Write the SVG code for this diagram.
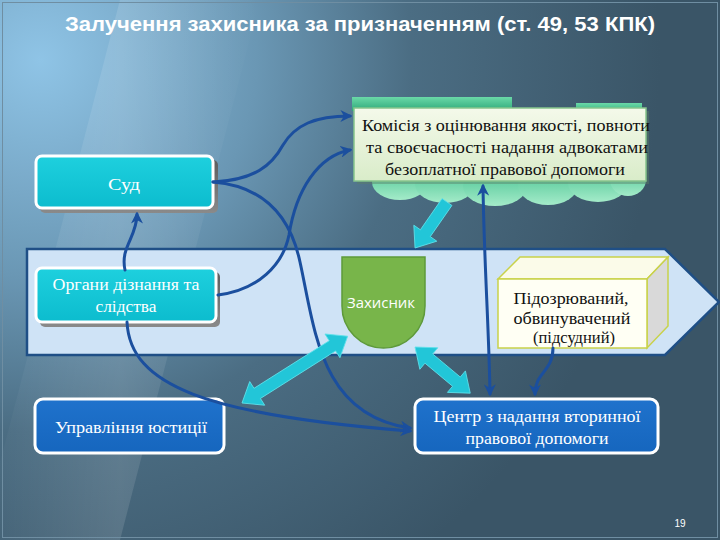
<svg xmlns="http://www.w3.org/2000/svg" width="720" height="540" viewBox="0 0 720 540">
<defs>
<radialGradient id="bg" cx="40" cy="60" r="620" gradientUnits="userSpaceOnUse">
<stop offset="0" stop-color="#8fc4e6"/>
<stop offset="0.35" stop-color="#6a97b4"/>
<stop offset="0.6" stop-color="#4b6d83"/>
<stop offset="1" stop-color="#3a5567"/>
</radialGradient>
<linearGradient id="streak" x1="0" y1="0" x2="1" y2="0">
<stop offset="0" stop-color="#ffffff" stop-opacity="0"/>
<stop offset="0.5" stop-color="#ffffff" stop-opacity="0.12"/>
<stop offset="1" stop-color="#ffffff" stop-opacity="0"/>
</linearGradient>
<linearGradient id="cyan" x1="0" y1="0" x2="0" y2="1">
<stop offset="0" stop-color="#1ed0de"/>
<stop offset="1" stop-color="#0cbcce"/>
</linearGradient>
<linearGradient id="blue" x1="0" y1="0" x2="0" y2="1">
<stop offset="0" stop-color="#1f72cc"/>
<stop offset="1" stop-color="#1666be"/>
</linearGradient>
<linearGradient id="kom" x1="0" y1="0" x2="0" y2="1">
<stop offset="0" stop-color="#f4f9ea"/>
<stop offset="1" stop-color="#d9ecc9"/>
</linearGradient>
<linearGradient id="cloud" x1="0" y1="0" x2="0" y2="1">
<stop offset="0" stop-color="#3fbf8c"/>
<stop offset="1" stop-color="#a4ebc9"/>
</linearGradient>
<linearGradient id="tab" x1="0" y1="0" x2="0" y2="1">
<stop offset="0" stop-color="#6ad9a8"/>
<stop offset="1" stop-color="#2ea878"/>
</linearGradient>
<linearGradient id="shadow" x1="0" y1="0" x2="0" y2="1">
<stop offset="0" stop-color="#5d5d5d"/>
<stop offset="1" stop-color="#8a8a8a"/>
</linearGradient>
<marker id="ah" viewBox="0 0 10 10" refX="8" refY="5" markerWidth="4" markerHeight="4" orient="auto-start-reverse" markerUnits="strokeWidth">
<path d="M0,0 L10,5 L0,10 L3,5 Z" fill="#1b4f9e"/>
</marker>
<style>
.title{font-family:"Liberation Sans",Arial,sans-serif;font-weight:bold;font-size:20px;fill:#ffffff}
.wt{font-family:"Liberation Serif","DejaVu Serif","Noto Serif",serif;fill:#ffffff;text-anchor:middle}
.bt{font-family:"Liberation Serif","DejaVu Serif","Noto Serif",serif;fill:#111111;text-anchor:middle}
.cbox{fill:url(#cyan);stroke:#ffffff;stroke-width:3}
.bbox{fill:url(#blue);stroke:#ffffff;stroke-width:3}
.shd{fill:url(#shadow)}
.conn{fill:none;stroke:#1b4f9e;stroke-width:3;stroke-linecap:round}
.big{fill:#22c6d8;stroke:#5fe0ea;stroke-width:0.8}
</style>
</defs>

<rect x="0" y="0" width="720" height="540" fill="url(#bg)"/>
<polygon points="120,0 260,0 120,540 -20,540" fill="url(#streak)"/>
<rect x="2.5" y="2.5" width="715" height="535" fill="none" stroke="#6f8ea2" stroke-width="1"/>

<text class="title" x="360" y="31" text-anchor="middle" textLength="590" lengthAdjust="spacingAndGlyphs">Залучення захисника за призначенням (ст. 49, 53 КПК)</text>

<g id="band">
<polygon points="27,249 665,249 719,302 665,355 27,355" fill="#cfe3f6" stroke="#1f4f86" stroke-width="2.5"/>
</g>

<g id="komisiya">
<rect x="352" y="97" width="160" height="14" fill="url(#tab)"/>
<rect x="576" y="103" width="66" height="10" fill="url(#tab)"/>
<ellipse cx="400" cy="182" rx="28" ry="18" fill="url(#cloud)"/>
<ellipse cx="445" cy="184" rx="30" ry="19" fill="url(#cloud)"/>
<ellipse cx="495" cy="186" rx="32" ry="20" fill="url(#cloud)"/>
<ellipse cx="548" cy="185" rx="30" ry="20" fill="url(#cloud)"/>
<ellipse cx="598" cy="183" rx="30" ry="19" fill="url(#cloud)"/>
<ellipse cx="628" cy="180" rx="18" ry="16" fill="url(#cloud)"/>
<rect x="357" y="111" width="292" height="73" fill="#5a7f66" opacity="0.45"/>
<rect x="354" y="108" width="292" height="73" fill="url(#kom)" stroke="#86c58c" stroke-width="1.5"/>
<text class="bt" x="506" y="131" font-size="17" textLength="288" lengthAdjust="spacingAndGlyphs">Комісія з оцінювання якості, повноти</text>
<text class="bt" x="507" y="153" font-size="17" textLength="282" lengthAdjust="spacingAndGlyphs">та своєчасності надання адвокатами</text>
<text class="bt" x="505" y="175" font-size="17" textLength="240" lengthAdjust="spacingAndGlyphs">безоплатної правової допомоги</text>
</g>

<g id="sud">
<rect x="40" y="160" width="178" height="53" rx="5" class="shd"/>
<rect x="36" y="156" width="177" height="52" rx="6" class="cbox"/>
<text class="wt" x="124" y="190" font-size="16" textLength="32" lengthAdjust="spacingAndGlyphs">Суд</text>
</g>

<g id="organy">
<rect x="40" y="272" width="180" height="55" rx="5" class="shd"/>
<rect x="36" y="268" width="180" height="54" rx="6" class="cbox"/>
<text class="wt" x="126" y="290" font-size="16" textLength="147" lengthAdjust="spacingAndGlyphs">Органи дізнання та</text>
<text class="wt" x="126" y="312" font-size="16" textLength="61" lengthAdjust="spacingAndGlyphs">слідства</text>
</g>

<g id="upravlinnya">
<rect x="35" y="399" width="189" height="54" rx="8" class="bbox"/>
<text class="wt" x="131" y="433" font-size="17" textLength="152" lengthAdjust="spacingAndGlyphs">Управління юстиції</text>
</g>

<g id="tsentr">
<rect x="415" y="399" width="243" height="54" rx="8" class="bbox"/>
<text class="wt" x="537" y="422" font-size="17" textLength="207" lengthAdjust="spacingAndGlyphs">Центр з надання вторинної</text>
<text class="wt" x="537" y="444" font-size="17" textLength="143" lengthAdjust="spacingAndGlyphs">правової допомоги</text>
</g>

<g id="zakhysnyk">
<path d="M342,257 L425,257 L425,306 A41.5,42 0 0 1 342,306 Z" fill="#78b54a" stroke="#5e9a3a" stroke-width="1.5"/>
<text x="381" y="308" font-family="'Open Sans','Liberation Sans',sans-serif" font-size="14" fill="#ffffff" text-anchor="middle" textLength="68" lengthAdjust="spacingAndGlyphs">Захисник</text>
</g>

<g id="pidozryuvanyi">
<polygon points="498,279 520,257 668,257 647,279" fill="#fbfbe9" stroke="#c9d24a" stroke-width="1.5"/>
<polygon points="647,279 668,257 668,326 647,348" fill="#d9d9d9" stroke="#c9d24a" stroke-width="1.5"/>
<rect x="498" y="279" width="149" height="69" fill="#fffff4" stroke="#c9d24a" stroke-width="1.5"/>
<text class="bt" x="571" y="304" font-size="17" textLength="115" lengthAdjust="spacingAndGlyphs">Підозрюваний,</text>
<text class="bt" x="572" y="324" font-size="17" textLength="117" lengthAdjust="spacingAndGlyphs">обвинувачений</text>
<text class="bt" x="574" y="343" font-size="17" textLength="82" lengthAdjust="spacingAndGlyphs">(підсудний)</text>
</g>

<g id="connectors">
<path class="conn" d="M213,182 C255,180 272,165 283,145 C295,125 315,116 350,116" marker-end="url(#ah)"/>
<path class="conn" d="M218,295 C258,290 283,265 289,235 C296,190 318,156 350,150" marker-end="url(#ah)"/>
<path class="conn" d="M213,182 C262,186 290,215 300,262 C315,330 320,415 410,428" marker-end="url(#ah)"/>
<path class="conn" d="M127,322 C130,385 205,415 410,431" marker-end="url(#ah)"/>
<path class="conn" d="M125,270 C120,247 137,237 137,214" marker-end="url(#ah)"/>
<path class="conn" d="M483,186 C484,260 489,330 490,394" marker-start="url(#ah)" marker-end="url(#ah)"/>
<path class="conn" d="M553,348 C553,372 535,372 535,394" marker-end="url(#ah)"/>
<g transform="translate(447,202) rotate(124.8)">
<polygon class="big" points="0,-6 38,-6 38,-14 56,0 38,14 38,6 0,6"/>
</g>
<g transform="translate(242,403) rotate(-32.3)">
<polygon class="big" points="0,0 18,-14 18,-6 107,-6 107,-14 125,0 107,14 107,6 18,6 18,14"/>
</g>
<g transform="translate(415,347) rotate(39.9)">
<polygon class="big" points="0,0 18,-14 18,-6 54,-6 54,-14 72,0 54,14 54,6 18,6 18,14"/>
</g>
</g>

<text x="680" y="527" font-family="'Liberation Sans',Arial,sans-serif" font-size="10" fill="#ffffff" text-anchor="middle">19</text>
</svg>
